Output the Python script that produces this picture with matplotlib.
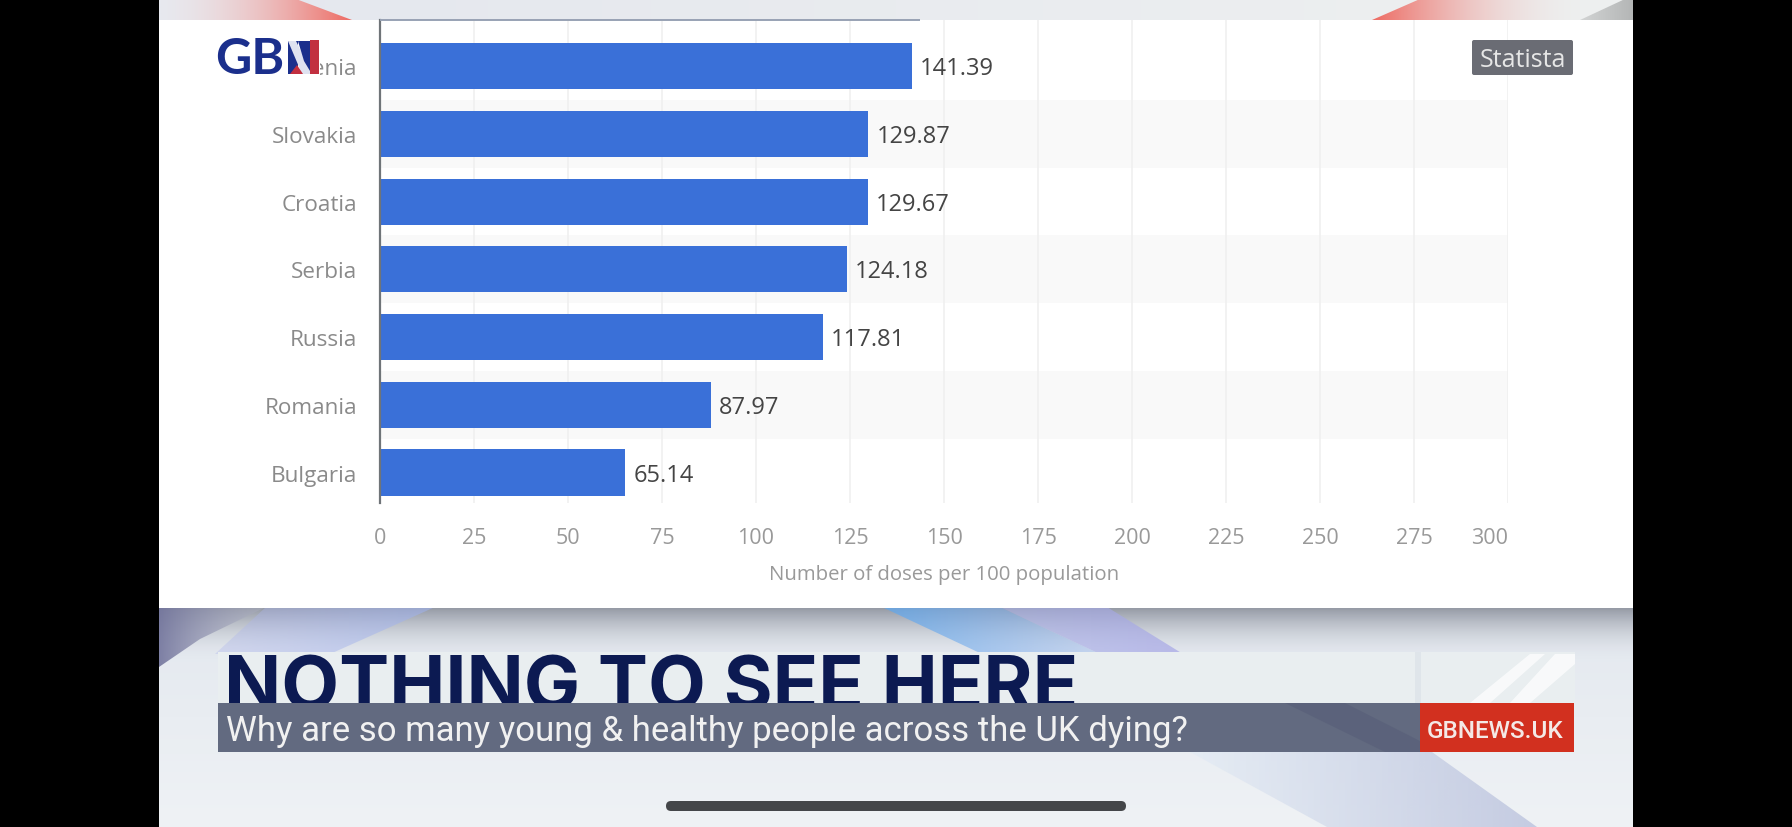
import numpy as np
import matplotlib
matplotlib.use("Agg")
import matplotlib.pyplot as plt
from matplotlib.colors import to_rgb
from matplotlib.patches import Polygon, Rectangle, FancyBboxPatch

W, H = 1792, 828

countries = ["Slovenia", "Slovakia", "Croatia", "Serbia", "Russia", "Romania", "Bulgaria"]
doses = [141.39, 129.87, 129.67, 124.18, 117.81, 87.97, 65.14]
x_ticks = [0, 25, 50, 75, 100, 125, 150, 175, 200, 225, 250, 275, 300]
x_label = "Number of doses per 100 population"
headline = "NOTHING TO SEE HERE"
ticker = "Why are so many young & healthy people across the UK dying?"
site = "GBNEWS.UK"
badge = "Statista"

plt.rcParams['font.family'] = ['Open Sans', 'DejaVu Sans']

fig = plt.figure(figsize=(W / 100, H / 100), dpi=100, facecolor='black')

# backdrop in screen pixels
bg = fig.add_axes([0, 0, 1, 1], zorder=0)
bg.set_xlim(0, W)
bg.set_ylim(H, 0)
bg.axis('off')


def grad_poly(pts, c1, c2, a1, a2, z=1, vertical=False):
    # polygon filled by a linear fade
    pts = np.array(pts)
    x0, x1 = pts[:, 0].min(), pts[:, 0].max()
    y0, y1 = pts[:, 1].min(), pts[:, 1].max()
    t = np.linspace(0, 1, 256)
    rgba = np.zeros((1, 256, 4))
    rgba[0, :, :3] = np.outer(1 - t, to_rgb(c1)) + np.outer(t, to_rgb(c2))
    rgba[0, :, 3] = a1 + (a2 - a1) * t
    if vertical:
        rgba = rgba.transpose(1, 0, 2)
    im = bg.imshow(rgba, extent=[x0, x1, y1, y0], aspect='auto', zorder=z, interpolation='bilinear')
    im.set_clip_path(Polygon(pts, transform=bg.transData))


# top strip
grad_poly([(159, 0), (1633, 0), (1633, 21), (159, 21)], '#e4e7ee', '#eef0f0', 1, 1)
grad_poly([(159, 0), (296, 0), (352, 21), (159, 21)], '#f4f2f4', '#ee6a62', 0.2, 1, z=2)
grad_poly([(1372, 21), (1420, 0), (1580, 0), (1580, 21)], '#ee6a62', '#f0eeee', 1, 0.1, z=2)
grad_poly([(1580, 21), (1625, 0), (1633, 0), (1633, 21)], '#d2d4d4', '#b4b6b6', 1, 1, z=2)

# white panel
bg.add_patch(Rectangle((159, 21), 1474, 588, fc='white', ec='none', zorder=3))

# lower studio backdrop
grad_poly([(159, 608), (1633, 608), (1633, 828), (159, 828)], '#e3e8ef', '#eff2f5', 1, 1, vertical=True)
grad_poly([(159, 608), (1633, 608), (1633, 660), (159, 660)], '#9297a2', '#dfe4eb', 1, 0.05, z=1.2, vertical=True)
grad_poly([(159, 608), (266, 608), (200, 640), (159, 668)], '#72749c', '#b0b3c4', 0.9, 0.4, z=1.3)
grad_poly([(266, 608), (435, 608), (330, 655), (215, 655)], '#b0b8ec', '#9fb2ec', 0.35, 0.6, z=1.3)
grad_poly([(882, 608), (1000, 608), (1100, 655), (982, 655)], '#5fa8ee', '#8fb2ee', 0.75, 0.35, z=1.3)
grad_poly([(1000, 608), (1107, 608), (1183, 655), (1100, 655)], '#a8b0ea', '#a6a6e6', 0.55, 0.7, z=1.3)
grad_poly([(1190, 753), (1432, 753), (1537, 828), (1327, 828)], '#e2ebf5', '#aab3d6', 0.6, 0.6, z=1.3)

# lower third
bg.add_patch(Rectangle((218, 653), 1357, 51, fc='#e9eef0', ec='none', zorder=4))
bg.add_patch(Polygon([(1470, 704), (1530, 655), (1545, 655), (1490, 704)], fc='#ffffff', alpha=0.7, zorder=4.1))
bg.add_patch(Polygon([(1510, 704), (1555, 655), (1575, 655), (1575, 665), (1530, 704)], fc='#ffffff', alpha=0.7, zorder=4.1))
bg.add_patch(Rectangle((1415, 653), 6, 51, fc='#dfe5ea', ec='none', zorder=4.1))
head = bg.text(224, 711, headline, fontsize=54, fontweight='bold', family=['Inter', 'DejaVu Sans'],
               color='#0c1a52', ha='left', va='baseline', zorder=5)
head.set_clip_path(Rectangle((218, 640), 1200, 64, transform=bg.transData))
bg.add_patch(Rectangle((218, 704), 1202, 49, fc='#626a80', ec='none', zorder=6))
bg.add_patch(Polygon([(1285, 704), (1345, 704), (1420, 742), (1420, 753), (1385, 753)], fc='#4c5270', alpha=0.3, zorder=6.1))
bg.add_patch(Rectangle((1420, 704), 154, 49, fc='#d2301f', ec='none', zorder=6))
bg.text(226, 732, ticker, fontsize=25, color='#f1f1f1', ha='left', va='center', zorder=7,
        family=['Roboto', 'DejaVu Sans'])
bg.text(1495, 732, site, fontsize=17.5, fontweight='medium', color='#f4e9e6', ha='center', va='center', zorder=7,
        family=['Roboto', 'DejaVu Sans'])

# phone home bar
bg.add_patch(FancyBboxPatch((666, 802), 460, 10, boxstyle='round,pad=0,rounding_size=5',
                            fc='#444649', ec='none', zorder=8))

# chart
px = lambda x0, y0, x1, y1: [x0 / W, 1 - y1 / H, (x1 - x0) / W, (y1 - y0) / H]
ax = fig.add_axes(px(380, 21, 1508, 504), zorder=2)
ax.patch.set_alpha(0)
y_pos = np.arange(len(countries))
ax.set_xlim(0, 300)
ax.set_ylim(6.45, -0.68)
for i in y_pos[1::2]:
    ax.axhspan(i - 0.5, i + 0.5, color='#f9f9f9', lw=0, zorder=0)
ax.set_xticks(x_ticks)
ax.grid(axis='x', color='#efefef', lw=1.1, zorder=1)
ax.set_axisbelow(True)
ax.barh(y_pos, doses, height=0.68, color='#3a70d8', zorder=2)
for i, v in zip(y_pos, doses):
    ax.text(v + 2.2, i + 0.03, f"{v:.2f}", va='center', ha='left', fontsize=17, color='#444444', zorder=3)

ax.set_yticks(y_pos)
ax.set_yticklabels(countries, fontsize=16.2, color='#8a8a8a')
ax.tick_params(axis='y', length=0, pad=16.5)
ax.tick_params(axis='x', length=0, pad=17.5, labelsize=15.5, labelcolor='#999999')
for s in ['top', 'right', 'bottom']:
    ax.spines[s].set_visible(False)
ax.spines['left'].set_color('#6f7478')
ax.spines['left'].set_linewidth(1.6)
labels = ax.get_xticklabels()
labels[-1].set_ha('right')
labels[-1].set_x(300)
ax.set_xlabel(x_label, fontsize=14.7, color='#999999', labelpad=11.5)

# top rule over the chart
fg = fig.add_axes([0, 0, 1, 1], zorder=5)
fg.set_xlim(0, W)
fg.set_ylim(H, 0)
fg.axis('off')
fg.plot([380, 920], [20.5, 20.5], color='#98a2b4', lw=1.4, solid_capstyle='butt')

# broadcaster logo over the first label
fg.add_patch(Rectangle((205, 35), 115, 48, fc='white', ec='none'))
fg.text(215, 59, "GB", fontsize=36, fontweight='bold', color='#1b2f8c', va='center', ha='left',
        family=['Lato', 'DejaVu Sans'])
fg.add_patch(Polygon([(288, 42), (298, 42), (298, 75), (288, 75)], fc='#1b2f8c', ec='none'))
fg.add_patch(Polygon([(288, 42), (296, 42), (312, 75), (302, 75)], fc='#dfe2f0', ec='none'))
fg.add_patch(Polygon([(298, 42), (310, 42), (310, 72), (304, 62)], fc='#1b2f8c', ec='none'))
fg.add_patch(Polygon([(310, 41), (319, 41), (319, 75), (310, 75)], fc='#c23040', ec='none'))
fg.add_patch(Polygon([(297, 66), (303, 75), (290, 75)], fc='#c23040', ec='none'))

# source badge
fg.add_patch(FancyBboxPatch((1472, 41), 101, 35, boxstyle='round,pad=0,rounding_size=2',
                            fc='#6a6c74', ec='none'))
fg.text(1522.5, 60.5, badge, fontsize=18, fontweight='medium', color='#e6e6e6', ha='center', va='center')

fig.savefig('out.png', dpi=100, facecolor='black')
